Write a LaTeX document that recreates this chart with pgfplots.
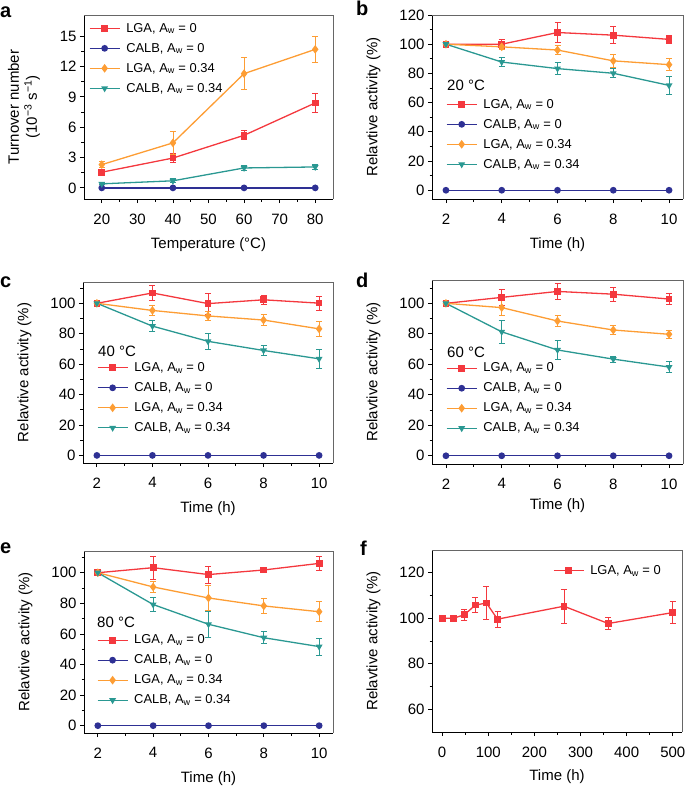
\documentclass[border=0pt]{standalone}
\usepackage{fontspec}
\setmainfont{Liberation Sans}
\usepackage{pgfplots}
\pgfplotsset{compat=1.18}
\definecolor{cred}{RGB}{244,56,62}
\definecolor{cblue}{RGB}{46,48,148}
\definecolor{corange}{RGB}{253,157,52}
\definecolor{cteal}{RGB}{42,152,146}
\pgfplotsset{
  panel/.style={
    scale only axis,
    axis lines*=left,
    axis line style={black, line width=0.8pt},
    tick align=outside,
    tick style={black, line width=0.8pt},
    major tick length=4pt, minor tick length=2.5pt,
    minor tick num=1,
    tick label style={font=\fontsize{15}{17}\selectfont},
    xticklabel style={yshift=-7pt},
    label style={font=\fontsize{15}{18}\selectfont},
    /pgf/number format/assume math mode=true,
    legend style={draw=none, fill=none, font=\fontsize{12.9}{14.5}\selectfont, row sep=5.5pt, column sep=4pt, inner sep=0pt, outer sep=0pt, anchor=north west},
    legend cell align=left,
    legend image code/.code={\draw[mark repeat=2,mark phase=2,##1] plot coordinates {(0pt,0pt) (15pt,0pt) (30pt,0pt)};},
    every axis plot/.append style={line width=1.3pt, mark size=2.7pt},
    clip=false,
  },
  eb/.style={error bars/.cd, y dir=both, y explicit,
    error bar style={line width=0.8pt},
    error mark options={rotate=90, line width=0.8pt, mark size=3pt}},
  sred/.style={color=cred, mark=square*, eb},
  sblue/.style={color=cblue, mark=*},
  sorange/.style={color=corange, mark=diamond*, mark size=3.3pt, eb},
  steal/.style={color=cteal, mark=triangle*, mark options={rotate=180}, eb},
  timeax/.style={xmin=1.5, xmax=10.5, xtick={2,4,6,8,10},
    ytick={0,20,40,60,80,100,120},
    xlabel={Time (h)}, ylabel={Relavtive activity (\%)},
    xlabel style={at={(axis description cs:0.5,0)}, anchor=center, yshift=-46pt},
    ylabel style={at={(axis description cs:0,0.5)}, anchor=center, yshift=58.5pt}},
}
\newcommand{\frameTR}{\draw[black!60, line width=0.8pt] (rel axis cs:0,1) -- (rel axis cs:1,1) -- (rel axis cs:1,0);}
\newcommand{\Aw}{A\textsubscript{w}}
\begin{document}
\begin{tikzpicture}
\useasboundingbox (0pt,-787pt) rectangle (685pt,0pt);
\begin{scope}[every node/.style={font=\fontsize{20}{22}\selectfont\bfseries}]
\node[anchor=base west, inner sep=0pt] at (0pt,-17pt) {a};
\node[anchor=base west, inner sep=0pt] at (356pt,-16pt) {b};
\node[anchor=base west, inner sep=0pt] at (0pt,-287pt) {c};
\node[anchor=base west, inner sep=0pt] at (356pt,-287pt) {d};
\node[anchor=base west, inner sep=0pt] at (0pt,-553pt) {e};
\node[anchor=base west, inner sep=0pt] at (360pt,-555pt) {f};
\end{scope}
% ---------------- a ----------------
\begin{axis}[panel, at={(84pt,-199pt)}, anchor=south west, width=249pt, height=184pt,
  xmin=15, xmax=85, ymin=-1.1, ymax=17.1,
  xtick={20,30,40,50,60,70,80}, ytick={0,3,6,9,12,15},
  xlabel={Temperature (°C)},
  ylabel={Turnover number\\(10\textsuperscript{−3} s\textsuperscript{−1})},
  xlabel style={at={(axis description cs:0.5,0)}, anchor=center, yshift=-46pt},
  ylabel style={at={(axis description cs:0,0.5)}, anchor=center, align=center, yshift=60pt},
  legend style={at={(0.02,0.967)}}]
\frameTR
\addplot[sred] coordinates {(20,1.55) +- (0,0.15) (40,2.95) +- (0,0.45) (60,5.2) +- (0,0.45) (80,8.4) +- (0,0.9)};
\addlegendentry{LGA, \Aw{} = 0}
\addplot[sblue] coordinates {(20,0) (40,0) (60,0) (80,0)};
\addlegendentry{CALB, \Aw{} = 0}
\addplot[sorange] coordinates {(20,2.3) +- (0,0.3) (40,4.45) +- (0,1.15) (60,11.3) +- (0,1.6) (80,13.7) +- (0,1.3)};
\addlegendentry{LGA, \Aw{} = 0.34}
\addplot[steal] coordinates {(20,0.4) +- (0,0.1) (40,0.7) +- (0,0.2) (60,1.97) +- (0,0.25) (80,2.07) +- (0,0.25)};
\addlegendentry{CALB, \Aw{} = 0.34}
\end{axis}
% ---------------- b ----------------
\begin{axis}[panel, timeax, at={(432pt,-199pt)}, anchor=south west, width=251pt, height=184pt,
  ymin=-6, ymax=120,
  legend style={at={(0.056,0.554)}}]
\frameTR
\addplot[sred] coordinates {(2,100) +- (0,0.8) (4,100) +- (0,3) (6,108) +- (0,7) (8,106.2) +- (0,5.8) (10,103.3) +- (0,3)};
\addlegendentry{LGA, \Aw{} = 0}
\addplot[sblue] coordinates {(2,0) (4,0) (6,0) (8,0) (10,0)};
\addlegendentry{CALB, \Aw{} = 0}
\addplot[sorange] coordinates {(2,100) +- (0,0.8) (4,98.2) +- (0,2) (6,96) +- (0,3) (8,88.6) +- (0,4.3) (10,86) +- (0,4.2)};
\addlegendentry{LGA, \Aw{} = 0.34}
\addplot[steal] coordinates {(2,100) +- (0,0.8) (4,87.8) +- (0,3) (6,83.3) +- (0,4) (8,80.1) +- (0,3) (10,71.8) +- (0,6)};
\addlegendentry{CALB, \Aw{} = 0.34}
\end{axis}
\node[anchor=west, inner sep=0pt, font=\fontsize{15}{18}\selectfont] at (447pt,-85pt) {20 °C};
% ---------------- c ----------------
\begin{axis}[panel, timeax, at={(83pt,-463pt)}, anchor=south west, width=250pt, height=181pt,
  ymin=-5, ymax=114,
  legend style={at={(0.056,0.566)}}]
\frameTR
\addplot[sred] coordinates {(2,100) +- (0,0.8) (4,106.8) +- (0,4.7) (6,99.8) +- (0,7) (8,102.3) +- (0,3.2) (10,100.1) +- (0,4.7)};
\addlegendentry{LGA, \Aw{} = 0}
\addplot[sblue] coordinates {(2,0) (4,0) (6,0) (8,0) (10,0)};
\addlegendentry{CALB, \Aw{} = 0}
\addplot[sorange] coordinates {(2,100) +- (0,0.8) (4,95.3) +- (0,3) (6,91.7) +- (0,3) (8,89) +- (0,3.5) (10,83.2) +- (0,4.8)};
\addlegendentry{LGA, \Aw{} = 0.34}
\addplot[steal] coordinates {(2,100) +- (0,0.8) (4,85) +- (0,3.6) (6,75) +- (0,5) (8,69) +- (0,3) (10,63.5) +- (0,6.5)};
\addlegendentry{CALB, \Aw{} = 0.34}
\end{axis}
\node[anchor=west, inner sep=0pt, font=\fontsize{15}{18}\selectfont] at (98pt,-351pt) {40 °C};
% ---------------- d ----------------
\begin{axis}[panel, timeax, at={(432pt,-464pt)}, anchor=south west, width=251pt, height=184pt,
  ymin=-5.4, ymax=115.3,
  xlabel style={yshift=4pt},
  legend style={at={(0.056,0.56)}}]
\frameTR
\addplot[sred] coordinates {(2,100) +- (0,0.8) (4,103.9) +- (0,5) (6,107.8) +- (0,5) (8,106) +- (0,4.7) (10,102.8) +- (0,3.5)};
\addlegendentry{LGA, \Aw{} = 0}
\addplot[sblue] coordinates {(2,0) (4,0) (6,0) (8,0) (10,0)};
\addlegendentry{CALB, \Aw{} = 0}
\addplot[sorange] coordinates {(2,100) +- (0,0.8) (4,97.2) +- (0,4.8) (6,88.4) +- (0,3.5) (8,82.5) +- (0,3) (10,79.7) +- (0,2.5)};
\addlegendentry{LGA, \Aw{} = 0.34}
\addplot[steal] coordinates {(2,100) +- (0,0.8) (4,81.3) +- (0,7.5) (6,69.4) +- (0,6) (8,63.4) +- (0,2) (10,58.2) +- (0,3.8)};
\addlegendentry{CALB, \Aw{} = 0.34}
\end{axis}
\node[anchor=west, inner sep=0pt, font=\fontsize{15}{18}\selectfont] at (447pt,-352pt) {60 °C};
% ---------------- e ----------------
\begin{axis}[panel, timeax, at={(84pt,-733pt)}, anchor=south west, width=249pt, height=182pt,
  ymin=-4.8, ymax=114.2,
  legend style={at={(0.052,0.55)}}]
\frameTR
\addplot[sred] coordinates {(2,100) +- (0,0.8) (4,103.3) +- (0,7.4) (6,98.8) +- (0,5.5) (8,101.8) +- (0,1.5) (10,106.1) +- (0,4.4)};
\addlegendentry{LGA, \Aw{} = 0}
\addplot[sblue] coordinates {(2,0) (4,0) (6,0) (8,0) (10,0)};
\addlegendentry{CALB, \Aw{} = 0}
\addplot[sorange] coordinates {(2,100) +- (0,0.8) (4,90.7) +- (0,3.6) (6,83.5) +- (0,8) (8,78.3) +- (0,4.6) (10,74.5) +- (0,6.5)};
\addlegendentry{LGA, \Aw{} = 0.34}
\addplot[steal] coordinates {(2,100) +- (0,0.8) (4,79.2) +- (0,4.8) (6,66.3) +- (0,8.3) (8,57.5) +- (0,4) (10,51.7) +- (0,5.5)};
\addlegendentry{CALB, \Aw{} = 0.34}
\end{axis}
\node[anchor=west, inner sep=0pt, font=\fontsize{15}{18}\selectfont] at (97pt,-622pt) {80 °C};
% ---------------- f ----------------
\begin{axis}[panel, at={(432pt,-732pt)}, anchor=south west, width=250pt, height=182pt,
  xmin=-22, xmax=520, ymin=50, ymax=130,
  xtick={0,100,200,300,400,500}, ytick={60,80,100,120},
  xlabel={Time (h)}, ylabel={Relavtive activity (\%)},
  xlabel style={at={(axis description cs:0.5,0)}, anchor=center, yshift=-45pt},
  ylabel style={at={(axis description cs:0,0.5)}, anchor=center, yshift=58.5pt},
  legend style={at={(0.484,0.927)}}]
\frameTR
\addplot[sred] coordinates {(0,100) +- (0,0.5) (24,100) +- (0,0.8) (48,101.5) +- (0,2.3) (72,105.8) +- (0,3.4) (96,106.7) +- (0,7.3) (120,99.6) +- (0,3.5) (264,105.3) +- (0,7.5) (360,97.7) +- (0,2.8) (500,102.5) +- (0,4.8)};
\addlegendentry{LGA, \Aw{} = 0}
\end{axis}
\end{tikzpicture}
\end{document}
